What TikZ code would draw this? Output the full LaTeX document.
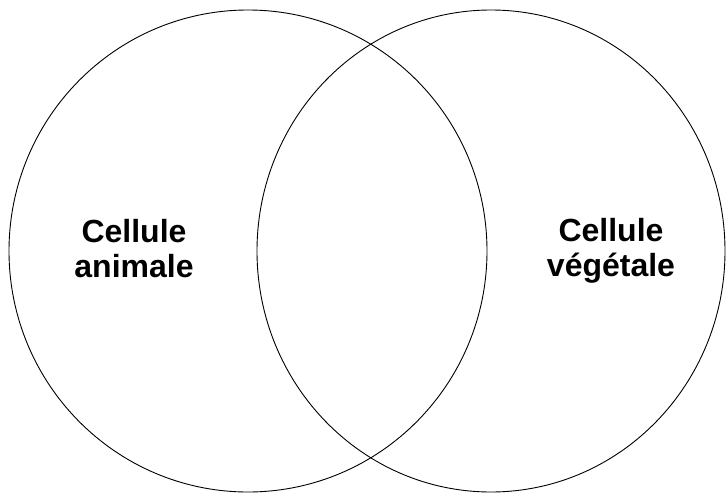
\documentclass[tikz,border=0pt]{standalone}
\usepackage{fontspec}
\setmainfont{Liberation Sans}
\usepackage{tikz}
\usetikzlibrary{shapes.geometric}

\begin{document}
\begin{tikzpicture}[
  x=1pt, y=-1pt,
  cell/.style={draw, ellipse, line width=0.9pt, inner sep=0pt},
  lbl/.style={align=center, font=\bfseries\fontsize{32}{35}\selectfont}
]
\useasboundingbox (0,0) rectangle (726,493);
\node[cell, minimum width=478pt, minimum height=482pt] (animal) at (248,251) {};
\node[cell, minimum width=468pt, minimum height=482pt] (plant) at (491,251) {};
\node[lbl] (animaltxt) at (134,249) {Cellule\\animale};
\node[lbl] (planttxt) at (611,251) {Cellule\\végétale};
\end{tikzpicture}
\end{document}
